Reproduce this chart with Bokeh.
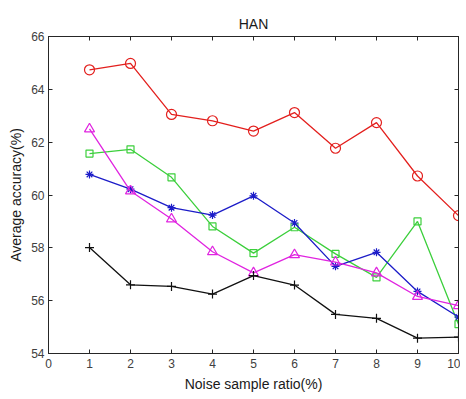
from bokeh.plotting import figure
from bokeh.models import LinearAxis, FixedTicker, Range1d, CustomJSTickFormatter
from bokeh.embed import file_html
from bokeh.resources import INLINE

noise_ratio = [1, 2, 3, 4, 5, 6, 7, 8, 9, 10]
red_circle = [64.74, 64.98, 63.05, 62.81, 62.42, 63.12, 61.77, 62.74, 60.72, 59.22]
green_square = [61.57, 61.73, 60.67, 58.81, 57.80, 58.78, 57.77, 56.88, 59.00, 55.11]
blue_star = [60.78, 60.22, 59.52, 59.24, 59.97, 58.94, 57.30, 57.83, 56.35, 55.38]
magenta_tri = [62.50, 60.15, 59.09, 57.85, 57.05, 57.74, 57.46, 57.05, 56.16, 55.81]
black_plus = [58.01, 56.60, 56.54, 56.25, 56.95, 56.59, 55.48, 55.33, 54.58, 54.62]
x_ticks = [0, 1, 2, 3, 4, 5, 6, 7, 8, 9, 10]
y_ticks = [54, 56, 58, 60, 62, 64, 66]

FONT = "Liberation Sans"
AX = "#262626"
LBL = "#404040"

p = figure(width=460, height=394, output_backend="svg", toolbar_location=None,
           x_range=Range1d(0, 10), y_range=Range1d(54, 66),
           min_border_left=48, min_border_right=2, min_border_top=36, min_border_bottom=34)
p.title.text = "HAN"
p.title.align = "center"
p.title.text_font = FONT
p.title.text_font_size = "14px"
p.title.text_font_style = "normal"
p.title.text_color = "#1a1a1a"
p.outline_line_color = AX
p.outline_line_alpha = 1.0
p.grid.visible = False
p.background_fill_color = "white"
p.border_fill_color = "white"

for ax in (p.xaxis[0], p.yaxis[0]):
    ax.major_tick_in = 4
    ax.major_tick_out = 0
    ax.minor_tick_line_color = None
    ax.axis_line_color = AX
    ax.major_tick_line_color = AX
    ax.major_label_text_font = FONT
    ax.major_label_text_font_size = "12px"
    ax.major_label_text_color = LBL
    ax.axis_label_text_font = FONT
    ax.axis_label_text_font_size = "14px"
    ax.axis_label_text_font_style = "normal"
    ax.axis_label_text_color = "#1a1a1a"

p.xaxis.ticker = FixedTicker(ticks=x_ticks)
p.yaxis.ticker = FixedTicker(ticks=y_ticks)
p.xaxis.axis_label = "Noise sample ratio(%)"
p.yaxis.axis_label = "Average accuracy(%)"
p.xaxis.major_label_standoff = 5
p.xaxis.axis_label_standoff = 5
p.yaxis.major_label_standoff = 4
p.yaxis.axis_label_standoff = 4

top = LinearAxis(ticker=FixedTicker(ticks=x_ticks), formatter=CustomJSTickFormatter(code="return '';"),
                 major_tick_in=4, major_tick_out=0, minor_tick_line_color=None,
                 axis_line_color=AX, major_tick_line_color=AX,
                 major_label_standoff=0, major_label_text_font_size="1px")
right = LinearAxis(ticker=FixedTicker(ticks=y_ticks), formatter=CustomJSTickFormatter(code="return '';"),
                   major_tick_in=4, major_tick_out=0, minor_tick_line_color=None,
                   axis_line_color=AX, major_tick_line_color=AX,
                   major_label_standoff=0, major_label_text_font_size="1px")
p.add_layout(top, "above")
p.add_layout(right, "right")

series = [
    (red_circle, "#e3201e", "circle", 10),
    (green_square, "#3ccf3c", "square", 7),
    (blue_star, "#1c1cc8", "asterisk", 8),
    (magenta_tri, "#e024e0", "triangle", 10),
    (black_plus, "#111111", "cross", 9),
]
for ys, col, mk, sz in series:
    p.line(noise_ratio, ys, line_color=col, line_width=1.3)
    p.scatter(noise_ratio, ys, marker=mk, size=sz, line_color=col,
              fill_color=None, line_width=1.2)

open("out.html", "w").write(file_html(p, INLINE))
